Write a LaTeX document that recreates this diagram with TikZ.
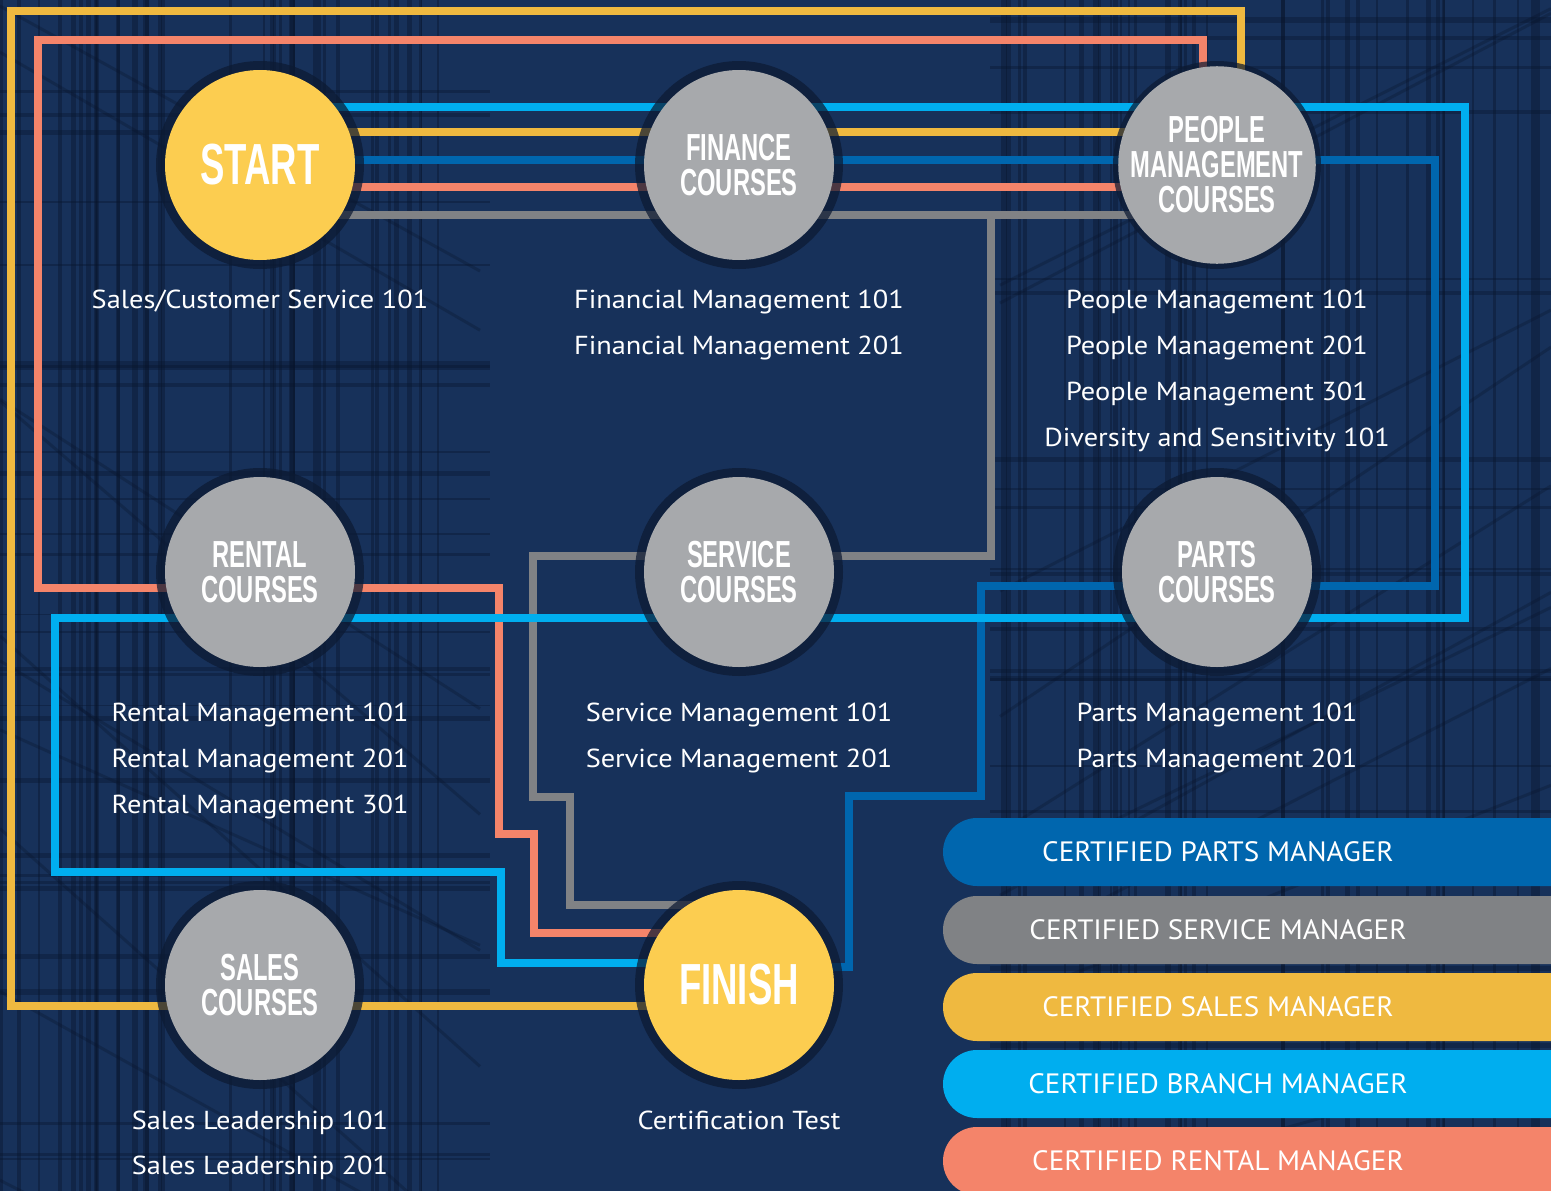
\documentclass[tikz,border=0pt]{standalone}
\usepackage{fontspec}
\setmainfont[FakeStretch=1.09]{PT Sans}
\newfontfamily\titlefont[FakeStretch=0.63]{Liberation Sans}
\newfontfamily\bannerfont[FakeStretch=1.04]{PT Sans}
\definecolor{bgc}{HTML}{17315A}
\definecolor{texc}{HTML}{08142B}
\definecolor{goldc}{HTML}{FCCD50}
\definecolor{circgray}{HTML}{A7A9AC}
\definecolor{ringc}{HTML}{0C1A33}
\definecolor{yellowl}{HTML}{EFB940}
\definecolor{salmonl}{HTML}{F4846A}
\definecolor{grayl}{HTML}{808285}
\definecolor{darkbluel}{HTML}{0066AE}
\definecolor{lightbluel}{HTML}{00AEEF}
\pgfdeclarelayer{canvas}
\pgfdeclarelayer{lines}
\pgfdeclarelayer{halo}
\pgfsetlayers{canvas,lines,halo,main}
\tikzset{
  route/.style={line width=8pt},
  coursec/.style={circle, minimum size=190pt, inner sep=0pt, fill=circgray, text=white, align=center,
    font=\titlefont\bfseries\fontsize{37.7}{35}\selectfont},
  endc/.style={circle, minimum size=190pt, inner sep=0pt, fill=goldc, text=white,
    font=\titlefont\bfseries\fontsize{58}{58}\selectfont},
  item/.style={text=white, anchor=base, inner sep=0pt, font=\fontsize{26}{30}\selectfont},
  bannertext/.style={text=white, inner sep=0pt, font=\bannerfont\fontsize{28}{30}\selectfont},
}
\begin{document}
\begin{tikzpicture}[x=1pt,y=-1pt]
\useasboundingbox (0,0) rectangle (1551,1191);
\clip (0,0) rectangle (1551,1191);
\begin{pgfonlayer}{canvas}
  \fill[bgc] (0,0) rectangle (1551,1191);
  \pgfmathsetseed{11}
  \foreach \i in {1,...,40}{
    \pgfmathsetmacro\xx{rnd*480}
    \pgfmathsetmacro\lw{1.5+rnd*4}
    \draw[texc, opacity=.4, line width=\lw pt] (\xx,0) -- (\xx,1191);
    \pgfmathsetmacro\xr{1000+rnd*551}
    \pgfmathsetmacro\lr{1.5+rnd*4}
    \draw[texc, opacity=.4, line width=\lr pt] (\xr,0) -- (\xr,1191);
  }
  \foreach \i in {1,...,30}{
    \pgfmathsetmacro\yy{rnd*1191}
    \pgfmathsetmacro\lw{1.5+rnd*4}
    \draw[texc, opacity=.35, line width=\lw pt] (0,\yy) -- (490,\yy);
    \pgfmathsetmacro\yr{rnd*1191}
    \pgfmathsetmacro\lr{1.5+rnd*4}
    \draw[texc, opacity=.35, line width=\lr pt] (990,\yr) -- (1551,\yr);
  }
  \foreach \i in {1,...,10}{
    \pgfmathsetmacro\ya{rnd*1191}
    \pgfmathsetmacro\yb{\ya+200+rnd*300}
    \draw[texc, opacity=.3, line width=3pt] (0,\ya) -- (480,\yb);
    \pgfmathsetmacro\yc{rnd*1191}
    \pgfmathsetmacro\yd{\yc+150+rnd*300}
    \draw[texc, opacity=.3, line width=3pt] (1551,\yc) -- (1000,\yd);
  }
\end{pgfonlayer}

% circles
\node[endc]    (start)   at (260,165) {START};
\node[coursec] (finance) at (739,165) {FINANCE\\COURSES};
\node[coursec] (people)  at (1217,165) {PEOPLE\\MANAGEMENT\\COURSES};
\node[coursec] (rental)  at (260,572) {RENTAL\\COURSES};
\node[coursec] (service) at (739,572) {SERVICE\\COURSES};
\node[coursec] (parts)   at (1217,572) {PARTS\\COURSES};
\node[coursec] (sales)   at (260,985) {SALES\\COURSES};
\node[endc]    (finish)  at (739,985) {FINISH};

\begin{pgfonlayer}{halo}
  \foreach \n in {start,finance,people,rental,service,parts,sales,finish}
    \fill[ringc, opacity=.72] (\n.center) circle[radius=104pt];
\end{pgfonlayer}

\coordinate (grayjoin) at (991,215);
\begin{pgfonlayer}{lines}
  % sales manager (yellow)
  \draw[route, yellowl] ([xshift=24pt]people.center) |- (11,11) |- ([yshift=-21pt]finish.center);
  \draw[route, yellowl] ([yshift=33pt]start.center) -- ([yshift=33pt]people.center);
  % rental manager (salmon)
  \draw[route, salmonl] ([xshift=-14pt]people.center) |- (38,40) |- ([yshift=-16pt]rental.center);
  \draw[route, salmonl] ([yshift=-16pt]rental.center) -| (499,834) -| (534,933) -- ([yshift=52pt]finish.center);
  \draw[route, salmonl] ([yshift=-22pt]start.center) -- ([yshift=-22pt]people.center);
  % service manager (gray)
  \draw[route, grayl] ([yshift=-50pt]start.center) -- ([yshift=-50pt]people.center);
  \draw[route, grayl] (grayjoin) |- ([yshift=16pt]service.center);
  \draw[route, grayl] ([yshift=16pt]service.center) -| (533,797) -| (570,905) -- ([yshift=80pt]finish.center);
  % parts manager (dark blue)
  \draw[route, darkbluel] ([yshift=5pt]start.center) -| (1435,586) -- ([yshift=-14pt]parts.center);
  \draw[route, darkbluel] ([yshift=-14pt]parts.center) -| (981,796) -| (849,967) -- ([yshift=18pt]finish.center);
  % branch manager (light blue)
  \draw[route, lightbluel] ([yshift=58pt]start.center) -| (1465,618) -- (55,618) |- (501,872) |- ([yshift=22pt]finish.center);
\end{pgfonlayer}

% course lists
\node[item] (s1) at (260,308) {Sales/Customer Service 101};
\node[item] (f1) at (739,308) {Financial Management 101};
\node[item] (f2) at (739,354) {Financial Management 201};
\node[item] (p1) at (1217,308) {People Management 101};
\node[item] (p2) at (1217,354) {People Management 201};
\node[item] (p3) at (1217,400) {People Management 301};
\node[item] (p4) at (1217,446) {Diversity and Sensitivity 101};
\node[item] (r1) at (260,721) {Rental Management 101};
\node[item] (r2) at (260,767) {Rental Management 201};
\node[item] (r3) at (260,813) {Rental Management 301};
\node[item] (v1) at (739,721) {Service Management 101};
\node[item] (v2) at (739,767) {Service Management 201};
\node[item] (t1) at (1217,721) {Parts Management 101};
\node[item] (t2) at (1217,767) {Parts Management 201};
\node[item] (l1) at (260,1129) {Sales Leadership 101};
\node[item] (l2) at (260,1174) {Sales Leadership 201};
\node[item] (c1) at (739,1129) {Certification Test};

% certificate banners
\fill[darkbluel, rounded corners=34pt] (943,818) rectangle (1620,886);
\node[bannertext] (bparts) at (1218,852) {CERTIFIED PARTS MANAGER};
\fill[grayl, rounded corners=34pt] (943,896) rectangle (1620,964);
\node[bannertext] (bservice) at (1218,930) {CERTIFIED SERVICE MANAGER};
\fill[yellowl, rounded corners=34pt] (943,973) rectangle (1620,1041);
\node[bannertext] (bsales) at (1218,1007) {CERTIFIED SALES MANAGER};
\fill[lightbluel, rounded corners=34pt] (943,1050) rectangle (1620,1118);
\node[bannertext] (bbranch) at (1218,1084) {CERTIFIED BRANCH MANAGER};
\fill[salmonl, rounded corners=34pt] (943,1127) rectangle (1620,1195);
\node[bannertext] (brental) at (1218,1161) {CERTIFIED RENTAL MANAGER};
\end{tikzpicture}
\end{document}
